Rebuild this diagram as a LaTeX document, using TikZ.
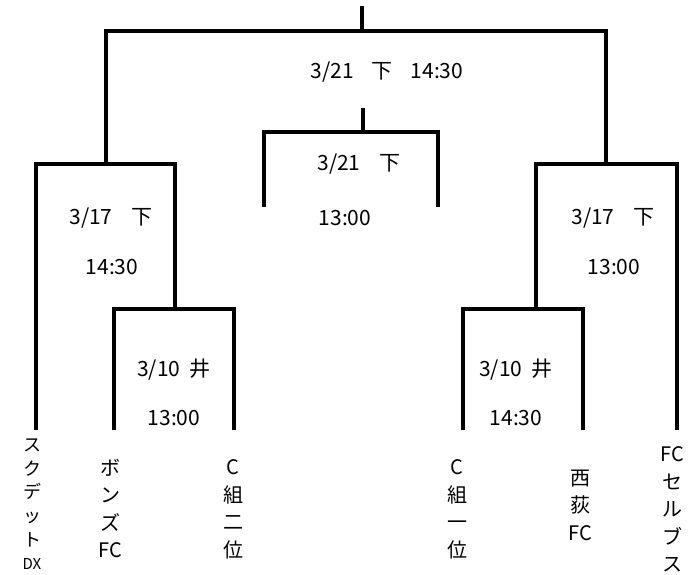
\documentclass[tikz,border=0pt]{standalone}
\usepackage{fontspec}
\setmainfont{Noto Sans CJK JP}
\usetikzlibrary{positioning}
\tikzset{
  datum/.style={font=\fontsize{21}{24}\selectfont, inner sep=0pt},
  team/.style={font=\fontsize{20}{27.5}\selectfont, align=center, inner sep=0pt},
}
\begin{document}
\begin{tikzpicture}[x=1pt, y=-1pt, line width=3.8pt, line join=miter]
		\useasboundingbox (0,0) rectangle (691,575);
		% ends of the teams
		\coordinate (t1) at (36,430);
		\coordinate (t2) at (114,430);
		\coordinate (t3) at (234,430);
		\coordinate (t4) at (463,430);
		\coordinate (t5) at (583,430);
		\coordinate (t6) at (677,430);
		% matches
		\coordinate (q1) at (175,309);
		\coordinate (q2) at (536,309);
		\coordinate (s1) at (106,164);
		\coordinate (s2) at (606,164);
		\coordinate (f) at (362,31);
		\coordinate (win) at (362,6);
		\draw (t2) |- (q1) -| (t3);
		\draw (t4) |- (q2) -| (t5);
		\draw (t1) |- (s1) -| (q1);
		\draw (q2) |- (s2) -| (t6);
		\draw (s1) |- (f) -| (s2);
		\draw (f) -- (win);
		% third place
		\coordinate (p1) at (264,207);
		\coordinate (p2) at (438,207);
		\coordinate (p) at (363,132);
		\coordinate (ptop) at (363,108);
		\draw (p1) |- (p) -| (p2);
		\draw (p) -- (ptop);
		% dates
		\node[datum] (fd) at (387,72) {3/21\hspace{0.85em}下\hspace{0.85em}14:30};
		\node[datum] (pd) at (359,164) {3/21\hspace{0.9em}下};
		\node[datum] (pt) at (345,218) {13:00};
		\node[datum] (s1d) at (111,218) {3/17\hspace{0.9em}下};
		\node[datum] (s1t) at (112,267) {14:30};
		\node[datum] (s2d) at (613,218) {3/17\hspace{0.9em}下};
		\node[datum] (s2t) at (614,267) {13:00};
		\node[datum] (q1d) at (174,370) {3/10\hspace{0.45em}井};
		\node[datum] (q1t) at (174,418) {13:00};
		\node[datum] (q2d) at (516,370) {3/10\hspace{0.45em}井};
		\node[datum] (q2t) at (516,418) {14:30};
		% teams
		\node[team, font=\fontsize{18}{23.6}\selectfont, below=7pt of t1, xshift=-4pt] (n1) {ス\\ク\\デ\\ッ\\ト\\{\fontsize{15}{16}\selectfont DX}};
		\node[team, below=27pt of t2, xshift=-4pt] (n2) {ボ\\ン\\ズ\\FC};
		\node[team, below=28pt of t3, xshift=-1pt] (n3) {C\\組\\二\\位};
		\node[team, below=28pt of t4, xshift=-6pt] (n4) {C\\組\\一\\位};
		\node[team, below=38pt of t5, xshift=-3pt] (n5) {西\\荻\\FC};
		\node[team, below=15pt of t6, xshift=-5pt] (n6) {FC\\セ\\ル\\ブ\\ス};
	\end{tikzpicture}
\end{document}
